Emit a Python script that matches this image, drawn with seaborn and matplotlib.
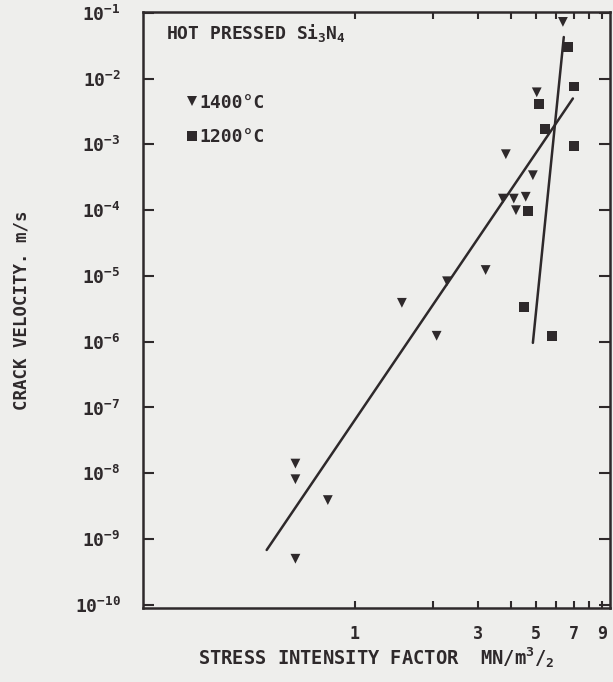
import matplotlib
matplotlib.use("Agg")
import matplotlib.pyplot as plt
import numpy as np
import pandas as pd
import seaborn as sns

# 1400 C data (triangles)
k_1400 = [6.36, 5.04, 3.83, 4.87, 3.73, 4.11, 4.57, 4.19, 3.20, 2.27, 1.52, 2.07, 0.59, 0.59, 0.787, 0.59]
v_1400 = [7.3e-2, 6.2e-3, 7.1e-4, 3.4e-4, 1.5e-4, 1.5e-4, 1.6e-4, 1.0e-4, 1.23e-5, 8.3e-6, 3.9e-6,
          1.23e-6, 1.4e-8, 8.1e-9, 3.9e-9, 5.0e-10]

# 1200 C data (squares)
k_1200 = [6.64, 7.01, 5.13, 5.41, 7.01, 4.66, 4.49, 5.76]
v_1200 = [3.0e-2, 7.6e-3, 4.1e-3, 1.7e-3, 9.6e-4, 9.6e-5, 3.4e-6, 1.23e-6]

# fitted lines
fit_1400_k = [0.457, 6.95]
fit_1400_v = [6.8e-10, 5.0e-3]
fit_1200_k = [4.87, 6.41]
fit_1200_v = [9.6e-7, 4.3e-2]

x_ticks = [1, 2, 3, 4, 5, 6, 7, 8, 9]
x_labels = ["1", "", "3", "", "5", "", "7", "", "9"]
y_exps = list(range(-10, 0))

ink = "#2e292b"
bg = "#eeeeec"

sns.set_style("white")
plt.rcParams["font.family"] = ["DejaVu Sans Mono", "DejaVu Sans"]
plt.rcParams["font.weight"] = "bold"
plt.rcParams["axes.labelweight"] = "bold"
plt.rcParams["mathtext.default"] = "regular"

df = pd.DataFrame({
    "K": k_1400 + k_1200,
    "V": v_1400 + v_1200,
    "temp": ["1400°C"] * len(k_1400) + ["1200°C"] * len(k_1200),
})

fig = plt.figure(figsize=(6.13, 6.82), dpi=100, facecolor=bg)
ax = fig.add_axes([0.233, 0.1085, 0.762, 0.874])
ax.set_facecolor(bg)

sns.lineplot(x=fit_1400_k, y=fit_1400_v, sort=False, color=ink, lw=1.8, ax=ax)
sns.lineplot(x=fit_1200_k, y=fit_1200_v, sort=False, color=ink, lw=1.8, ax=ax)
sns.scatterplot(data=df, x="K", y="V", style="temp", markers={"1400°C": "v", "1200°C": "s"},
                style_order=["1400°C", "1200°C"], color=ink, s=50, linewidth=0, ax=ax)

ax.set_xscale("log")
ax.set_yscale("log")
ax.set_xlim(0.152, 9.66)
ax.set_ylim(10 ** -10.05, 10 ** -0.985)

ax.set_xticks(x_ticks)
ax.set_xticklabels(x_labels)
ax.xaxis.set_minor_locator(matplotlib.ticker.NullLocator())
ax.set_yticks([10.0 ** e for e in y_exps])
ax.set_yticklabels([f"$10^{{{e}}}$" for e in y_exps])
ax.yaxis.set_minor_locator(matplotlib.ticker.NullLocator())

ax.tick_params(axis="x", direction="in", length=5, width=1.5, color=ink, labelsize=12,
               labelcolor=ink, pad=12, top=True, bottom=True)
ax.tick_params(axis="y", direction="in", length=8, width=1.5, color=ink, labelsize=13,
               labelcolor=ink, pad=16, left=True, right=True)
for sp in ax.spines.values():
    sp.set_color(ink)
    sp.set_linewidth(1.8)

ax.set_xlabel("STRESS INTENSITY FACTOR  MN/m$^3$/$_2$", fontsize=13.5, color=ink, labelpad=2)
ax.set_ylabel("CRACK VELOCITY. m/s", fontsize=12.5, color=ink, labelpad=32)

ax.text(0.05, 0.965, "HOT PRESSED Si$_3$N$_4$", transform=ax.transAxes, fontsize=13,
        color=ink, ha="left", va="center")

leg = ax.legend(loc="upper left", bbox_to_anchor=(0.055, 0.89), frameon=False, fontsize=13,
                handletextpad=0.0, handlelength=0.8, labelspacing=0.9, markerscale=1.1)
for t in leg.get_texts():
    t.set_color(ink)

fig.savefig("out.png", dpi=100, facecolor=bg)
